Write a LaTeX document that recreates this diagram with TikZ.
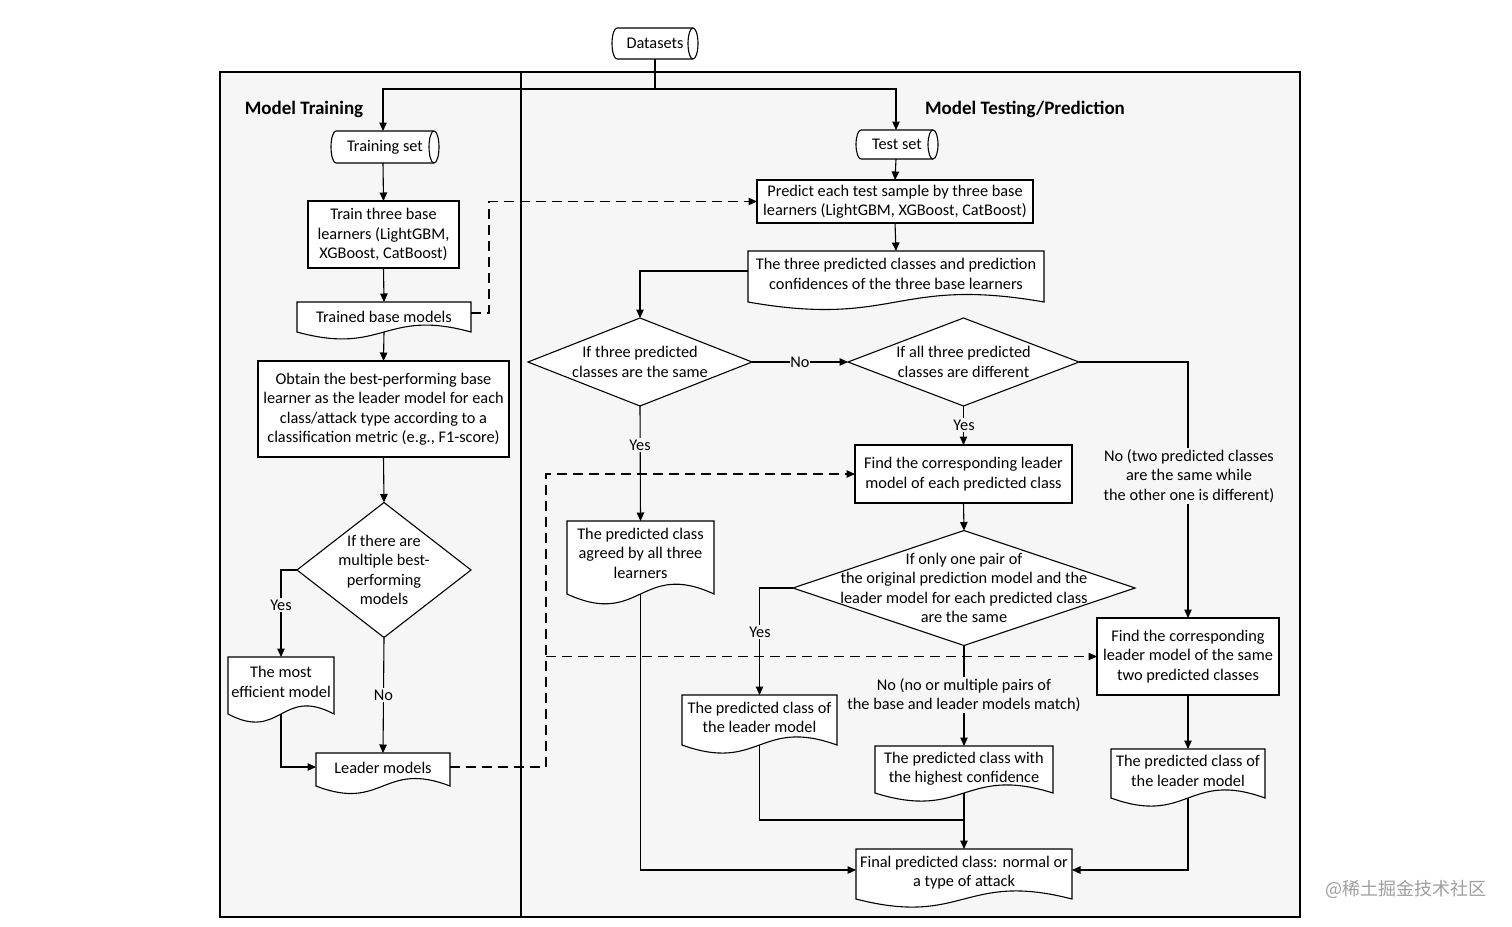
\documentclass[tikz,border=0pt]{standalone}
\usepackage{fontspec}
\setmainfont{Carlito}
\newfontfamily\cjk{Noto Sans CJK SC}
\usetikzlibrary{arrows.meta,calc}
\pgfdeclarelayer{bg}
\pgfdeclarelayer{shp}
\pgfsetlayers{bg,shp,main}
\definecolor{panel}{gray}{0.965}
\newcommand{\docshape}[2][30]{%
  \begin{pgfonlayer}{shp}
  \draw[shapeline] (#2.south east) -- (#2.north east) -- (#2.north west) -- (#2.south west)
    .. controls ($(#2.south)+(0,#1)$) and ($(#2.south)+(0,-#1)$) .. (#2.south east) -- cycle;
  \end{pgfonlayer}}
\newcommand{\storedshape}[2]{%
  \begin{pgfonlayer}{shp}
  \draw[shapeline] (#1.north east) -- (#1.north west)
    arc[start angle=90, end angle=270, x radius=5pt, y radius=#2pt] -- (#1.south east)
    arc[start angle=-90, end angle=90, x radius=5pt, y radius=#2pt] -- cycle;
  \draw[shapeline, fill=none] (#1.north east) arc[start angle=90, end angle=270, x radius=5pt, y radius=#2pt];
  \end{pgfonlayer}}
\newcommand{\diashape}[1]{%
  \begin{pgfonlayer}{shp}
  \draw[shapeline] (#1.north) -- (#1.east) -- (#1.south) -- (#1.west) -- cycle;
  \end{pgfonlayer}}
\begin{document}
\begin{tikzpicture}[x=1pt,y=-1pt, font=\fontsize{16.3}{19.5}\selectfont,
  shapeline/.style={draw=black, line width=1.1pt, fill=white},
  box/.style={draw=black, line width=1.1pt, fill=white, align=center, inner sep=2pt, outer sep=0pt},
  ghost/.style={align=center, inner sep=2pt, outer sep=0pt},
  docn/.style={ghost, text depth=#1},
  conn/.style={line width=1.1pt},
  arr/.style={conn, -{Triangle[length=8.5pt,width=7.5pt]}},
  dasharr/.style={arr, dash pattern=on 10pt off 6pt},
  lbl/.style={fill=panel, inner sep=1.5pt, align=center},
  frame/.style={draw=black, line width=2pt, fill=panel},
  head/.style={font=\fontsize{19}{23}\selectfont\bfseries}]
\useasboundingbox (0,0) rectangle (1512,926);
\begin{pgfonlayer}{bg}
  \fill[white] (0,0) rectangle (1512,926);
  \draw[frame] (220,72) rectangle (521,917);
  \draw[frame] (521,72) rectangle (1300,917);
\end{pgfonlayer}

% headings
\node[head] (h1) at (304,109) {Model Training};
\node[head] (h2) at (1025,109) {Model Testing/Prediction};

% stored data
\node[ghost, minimum width=76pt, minimum height=31pt] (datasets) at (655,43.5) {Datasets};
\storedshape{datasets}{15.5}
\node[ghost, minimum width=98pt, minimum height=32pt] (trainset) at (385,147) {Training set};
\storedshape{trainset}{16}
\node[ghost, minimum width=72pt, minimum height=29pt] (testset) at (897,144.5) {Test set};
\storedshape{testset}{14.5}

% left panel
\node[box, minimum width=151pt, minimum height=67pt] (train) at (383.5,234.5) {Train three base\\learners (LightGBM,\\XGBoost, CatBoost)};
\node[docn=1pt, minimum width=174pt, minimum height=30pt] (trained) at (384,317) {Trained base models};
\docshape[24]{trained}
\node[docn=7pt, minimum width=106pt, minimum height=57pt] (eff) at (281,685.5) {The most\\efficient model};
\docshape[28]{eff}
\node[box, minimum width=251pt, minimum height=96pt] (obtain) at (383.5,409) {Obtain the best-performing base\\learner as the leader model for each\\class/attack type according to a\\classification metric (e.g., F1-score)};
\node[ghost, minimum width=174pt, minimum height=135pt] (diaL) at (384,570) {If there are\\multiple best-\\performing\\models};
\diashape{diaL}
\node[docn=3pt, minimum width=134pt, minimum height=33pt] (leader) at (383,769.5) {Leader models};
\docshape[26]{leader}

% right panel
\node[box, minimum width=276pt, minimum height=43pt] (predict) at (895,201.5) {Predict each test sample by three base\\learners (LightGBM, XGBoost, CatBoost)};
\node[docn=5pt, minimum width=296pt, minimum height=51pt] (three) at (896,276.5) {The three predicted classes and prediction\\confidences of the three base learners};
\docshape[26]{three}
\node[ghost, minimum width=224pt, minimum height=88pt] (dia1) at (640,362) {If three predicted\\classes are the same};
\diashape{dia1}
\node[ghost, minimum width=231pt, minimum height=88pt] (dia2) at (963.5,362) {If all three predicted\\classes are different};
\diashape{dia2}
\node[docn=9pt, minimum width=147pt, minimum height=73pt] (agreed) at (640.5,557.5) {The predicted class\\agreed by all three\\learners};
\docshape[34]{agreed}
\node[box, minimum width=217pt, minimum height=58pt] (findcorr) at (963.5,474) {Find the corresponding leader\\model of each predicted class};
\node[ghost, minimum width=342pt, minimum height=115pt] (dia3) at (964,588) {If only one pair of\\the original prediction model and the\\leader model for each predicted class\\are the same};
\diashape{dia3}
\node[docn=5pt, minimum width=155pt, minimum height=50pt] (leaderL) at (759.5,720) {The predicted class of\\the leader model};
\docshape[28]{leaderL}
\node[docn=4pt, minimum width=178pt, minimum height=47pt] (highest) at (964,769.5) {The predicted class with\\the highest confidence};
\docshape[28]{highest}
\node[docn=5pt, minimum width=154pt, minimum height=49pt] (leaderR) at (1188,773.5) {The predicted class of\\the leader model};
\docshape[28]{leaderR}
\node[box, minimum width=182pt, minimum height=77pt] (findsame) at (1188,656.5) {Find the corresponding\\leader model of the same\\two predicted classes};
\node[docn=5pt, minimum width=216pt, minimum height=50pt] (final) at (964,874) {Final predicted class: normal or\\a type of attack};
\docshape[28]{final}

% connectors: top split
\coordinate (split) at (655,89);
\draw[conn] (datasets.south) -- (split);
\draw[arr] (split) -| ([xshift=-2pt]trainset.north);
\draw[arr] (split) -| ([xshift=-1pt]testset.north);

% left connectors
\draw[arr] ([xshift=-2pt]trainset.south) -- (train.north);
\draw[arr] (train.south) -- (trained.north);
\draw[arr] (trained.south) -- (obtain.north);
\draw[arr] (obtain.south) -- (diaL.north);
\draw[arr] (diaL.west) -| (eff.north);
\node[lbl] (yesL) at (281,605) {Yes};
\draw[arr] (diaL.south) -- (leader.north);
\node[lbl] (noL) at (383.5,695) {No};
\draw[arr] (eff.south) |- ([yshift=2.5pt]leader.west);

% dashed
\coordinate (dx1) at (489,0);
\draw[dasharr] ([yshift=4pt]trained.east) -- ([yshift=4pt]trained.east -| dx1) |- (predict.west);
\coordinate (dx2) at (546,0);
\draw[dasharr] ([yshift=2.5pt]leader.east) -- ([yshift=2.5pt]leader.east -| dx2) |- (findcorr.west);
\draw[dasharr] (dx2 |- findsame.west) -- (findsame.west);

% right connectors
\draw[arr] ([xshift=-1pt]testset.south) -- (predict.north);
\draw[arr] (predict.south) -- (three.north);
\draw[arr] ([yshift=5.5pt]three.west) -| (dia1.north);
\draw[arr] (dia1.east) -- (dia2.west);
\node[lbl, inner sep=0.5pt] (no1) at (800,362) {No};
\draw[arr] (dia1.south) -- (agreed.north);
\node[lbl] (yes1) at (640,445) {Yes};
\draw[arr] (dia2.south) -- (findcorr.north);
\node[lbl] (yes2) at (964,425) {Yes};
\draw[arr] (dia2.east) -| (findsame.north);
\node[lbl] (no2) at (1189,476) {No (two predicted classes\\are the same while\\the other one is different)};
\draw[arr] (findcorr.south) -- (dia3.north);
\draw[arr] (dia3.west) -| (leaderL.north);
\node[lbl] (yes3) at (760,632) {Yes};
\draw[arr] (dia3.south) -- (highest.north);
\node[lbl] (no3) at (964,695) {No (no or multiple pairs of\\the base and leader models match)};
\draw[arr] (findsame.south) -- (leaderR.north);
\draw[arr] (highest.south) -- (final.north);
\coordinate (j) at (964,820);
\draw[conn] (leaderL.south) |- (j);
\draw[arr] (agreed.south) |- ([yshift=4pt]final.west);
\draw[arr] (leaderR.south) |- ([yshift=4pt]final.east);

% watermark
\node[text=gray!75, font=\cjk\fontsize{18}{20}\selectfont] (wm) at (1406,889) {@稀土掘金技术社区};
\end{tikzpicture}
\end{document}
